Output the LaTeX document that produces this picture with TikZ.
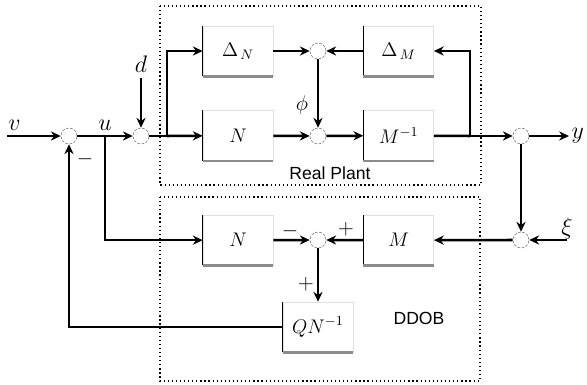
\RequirePackage{fix-cm}
\documentclass[tikz,border=0pt]{standalone}
\usepackage{fontspec}
\setsansfont{Liberation Sans}
\usetikzlibrary{arrows.meta, positioning, calc}

\begin{document}
\begin{tikzpicture}[
    x=0.025cm, y=-0.025cm,
    node distance=0.85cm and 2.25cm,
    block/.style={rectangle, draw=black!12, fill=white, minimum width=1.75cm, minimum height=1.25cm, font=\fontsize{14}{16}\selectfont,
        append after command={(\tikzlastnode.north west) edge[line width=0.9pt] (\tikzlastnode.south west)
            (\tikzlastnode.south west) edge[draw=black!45, line width=1.8pt] (\tikzlastnode.south east)}},
    sumnode/.style={circle, draw=black!55, dash pattern=on 2pt off 1pt, minimum size=0.4cm, inner sep=0pt},
    group/.style={draw, dotted, line width=0.9pt},
    arrow/.style={draw, line width=1.8pt, -{Stealth[length=7pt, width=6.5pt]}},
    wire/.style={draw, line width=1.8pt},
    sig/.style={font=\fontsize{17}{19}\selectfont},
    signlbl/.style={font=\fontsize{15}{17}\selectfont},
    tagtext/.style={font=\sffamily\fontsize{12.5}{14}\selectfont}
]
\useasboundingbox (0,0) rectangle (587,385);

% Groups
\draw[group] (160,6) rectangle (481,185);
\draw[group] (160,197) rectangle (480,381);
\node[tagtext] (plant) at (330,173) {Real Plant};
\node[tagtext] (ddob) at (419,318) {DDOB};

% Blocks
\node[block] (dN) at (238,51) {$\Delta_{\,N}$};
\node[block, below=of dN] (N1) {$N$};
\node[block, right=of dN] (dM) {$\Delta_{\,M}$};
\node[block, right=of N1] (Minv) {$M^{-1}$};
\node[block, below=1.35cm of N1] (N2) {$N$};
\node[block, right=of N2] (Mb) {$M$};
\node[block] (QN) at (318,327) {$QN^{-1}$};

% Summing junctions
\node[sumnode] (s1) at (69,136) {};
\node[sumnode] (s2) at (141,136) {};
\node[sumnode] (s3) at (318,51) {};
\node[sumnode] (s4) at (318,136) {};
\node[sumnode] (s5) at (521,136) {};
\node[sumnode] (s6) at (521,240) {};
\node[sumnode] (s7) at (318,240) {};

% Free ends and branch points
\coordinate (vin) at (7,136);
\coordinate (din) at (141,78);
\coordinate (yout) at (569,136);
\coordinate (xiin) at (567,240);
\coordinate (b1) at (167,136);
\coordinate (b2) at (470,136);
\coordinate (b3) at (105,136);

% Arrows
\draw[arrow] (vin) -- (s1) node[pos=0.14, above, sig] {$v$};
\draw[arrow] (s1) -- (s2) node[midway, above, sig] {$u$};
\draw[arrow] (din) node[above, sig] {$d$} -- (s2);
\draw[wire] (s2) -- (b1);
\draw[arrow] (b1) |- (dN);
\draw[arrow] (b1) -- (N1);
\draw[arrow] (dN) -- (s3);
\draw[arrow] (dM) -- (s3);
\draw[arrow] (s3) -- (s4);
\draw[arrow] (N1) -- (s4);
\draw[arrow] (s4) -- (Minv);
\draw[wire] (Minv) -- (b2);
\draw[arrow] (b2) |- (dM);
\draw[arrow] (b2) -- (s5);
\draw[arrow] (s5) -- (yout) node[right, inner sep=1pt, sig] {$y$};
\draw[arrow] (s5) -- (s6);
\draw[arrow] (xiin) -- (s6);
\draw[arrow] (s6) -- (Mb);
\draw[arrow] (Mb) -- (s7);
\draw[arrow] (N2) -- (s7);
\draw[arrow] (s7) -- (QN);
\draw[arrow] (QN) -| (s1);
\draw[arrow] (b3) |- (N2);

% Labels and signs
\node[signlbl] (phi) at (302,105) {$\phi$};
\node[sig] (xi) at (567,229) {$\xi$};
\node[signlbl] (m1) at (85,159) {$-$};
\node[signlbl] (m7) at (290,231) {$-$};
\node[signlbl] (p7) at (346,229) {$+$};
\node[signlbl] (p7b) at (306,284) {$+$};

\end{tikzpicture}
\end{document}
